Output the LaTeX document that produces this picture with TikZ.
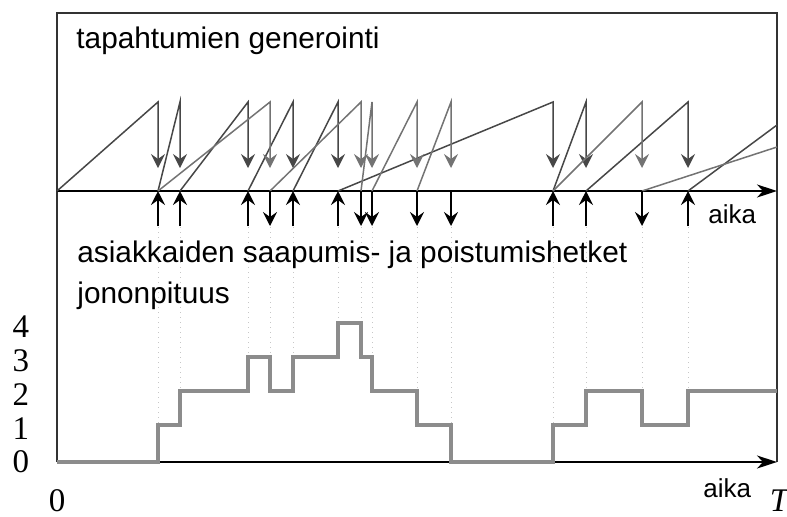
\documentclass[tikz,border=0pt]{standalone}
\usepackage{fontspec}
\setmainfont{Liberation Serif}
\setsansfont{Liberation Sans}
\usetikzlibrary{arrows.meta,positioning}
\tikzset{
  txt/.style    = {font=\sffamily\fontsize{14.9}{17}\selectfont, inner sep=0, anchor=base west},
  aikalbl/.style= {font=\sffamily\fontsize{13}{15}\selectfont, inner sep=0, anchor=base west},
  num/.style    = {font=\fontsize{16.5}{18}\selectfont, inner sep=0, anchor=base},
  frame/.style  = {draw=black!80, line width=0.75pt},
  axis/.style   = {line width=1pt, -{Stealth[length=10pt,width=6.5pt,inset=3pt]}},
  tip/.style    = {-{Stealth[length=7pt,width=7pt,inset=2.5pt]}},
  saapu/.style  = {tip, draw=black!72, line width=0.75pt},
  poistu/.style = {tip, draw=black!55, line width=0.75pt},
  hetki/.style  = {tip, line width=1pt},
  apu/.style    = {draw=black!22, dotted, line width=0.5pt},
  jono/.style   = {draw=black!45, line width=2pt}
}
\begin{document}
\begin{tikzpicture}[x=0.5pt,y=-0.5pt]
\useasboundingbox (0,0) rectangle (787,516);

% apuviivat tapahtumista jonon kuvaajaan
\foreach \t/\y in {158/425,180/391,248/357,270/357,293/357,338/323,361/323,
                   372/357,417/391,451/425,553/425,586/391,642/391,688/391}
  \draw[apu] (\t,227) -- (\t,\y);

% kehys ja aika-akselit
\draw[frame] (57,462) -- (57,13) -- (777,13) -- (777,462);
\draw[axis] (57,191) -- (777,191);
\draw[axis] (57,462) -- (777,462);

% tapahtumien generointi
\foreach \a/\b in {57/158,158/180,180/248,248/293,293/338,338/553,553/586,586/688}
  \draw[saapu] (\a,191) -- (\b,102) -- (\b,168);
\foreach \a/\b in {158/270,270/361,361/372,372/417,417/451,553/642}
  \draw[poistu] (\a,191) -- (\b,102) -- (\b,168);
\draw[saapu,-] (688,191) -- (777,125);
\draw[poistu,-] (642,191) -- (777,147);

% saapumis- ja poistumishetket
\foreach \t in {158,180,248,293,338,553,586,688}
  \draw[hetki] (\t,226) -- (\t,191);
\foreach \t in {270,361,372,417,451,642}
  \draw[hetki] (\t,191) -- (\t,226);

% jononpituus
\draw[jono] (57,462) -| (158,425) -| (180,391) -| (248,357) -| (270,391)
  -| (293,357) -| (338,323) -| (361,357) -| (372,391) -| (417,425)
  -| (451,462) -| (553,425) -| (586,391) -| (642,425) -| (688,391) -- (777,391);

\node[txt] (gen) at (76,48) {tapahtumien generointi};
\node[txt] (hetket) at (77,262) {asiakkaiden saapumis- ja poistumishetket};
\node[txt] (pituus) at (77,303) {jononpituus};
\node[aikalbl] (aika1) at (708,223) {aika};
\node[aikalbl] (aika2) at (703,497) {aika};

\node[num] (n4) at (21,337) {4};
\node[num] (n3) at (21,371) {3};
\node[num] (n2) at (21,405) {2};
\node[num] (n1) at (21,439) {1};
\node[num] (n0) at (21,472) {0};
\node[num] (t0) at (57,511) {0};
\node[num] (tT) at (779,511) {\itshape T};
\end{tikzpicture}
\end{document}
